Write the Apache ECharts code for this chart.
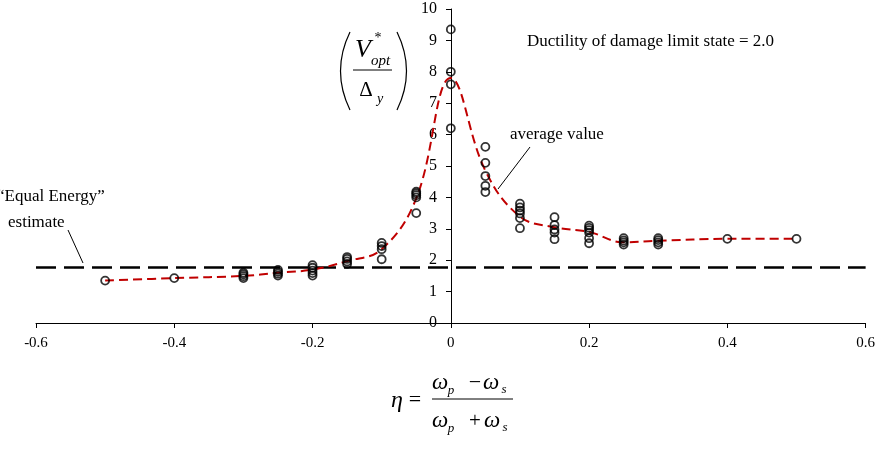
<!DOCTYPE html>
<html>
<head>
<meta charset="utf-8">
<script src="https://cdn.jsdelivr.net/npm/echarts@6/dist/echarts.min.js"></script>
<style>
  html, body { margin: 0; padding: 0; background: #fff; }
  #chart { width: 878px; height: 450px; }
</style>
</head>
<body>
<div id="chart"></div>
<script>
// x ticks and y ticks
const xTicks = [-0.6, -0.4, -0.2, 0, 0.2, 0.4, 0.6]
const yTicks = [0, 1, 2, 3, 4, 5, 6, 7, 8, 9, 10]

// individual results (eta, V*opt/Δy)
const ptEta = [
  -0.5,
  -0.4,
  -0.3, -0.3, -0.3, -0.3,
  -0.25, -0.25, -0.25, -0.25,
  -0.2, -0.2, -0.2, -0.2, -0.2,
  -0.15, -0.15, -0.15, -0.15,
  -0.1, -0.1, -0.1, -0.1,
  -0.05, -0.05, -0.05, -0.05, -0.05,
  0, 0, 0, 0,
  0.05, 0.05, 0.05, 0.05, 0.05,
  0.1, 0.1, 0.1, 0.1, 0.1, 0.1,
  0.15, 0.15, 0.15, 0.15, 0.15,
  0.2, 0.2, 0.2, 0.2, 0.2, 0.2,
  0.25, 0.25, 0.25, 0.25,
  0.3, 0.3, 0.3, 0.3,
  0.4,
  0.5
]
const ptVal = [
  1.35,
  1.43,
  1.43, 1.49, 1.55, 1.6,
  1.51, 1.57, 1.63, 1.69,
  1.51, 1.59, 1.67, 1.76, 1.84,
  1.88, 1.96, 2.04, 2.1,
  2.03, 2.35, 2.45, 2.55,
  3.5, 4.0, 4.07, 4.13, 4.18,
  6.2, 7.6, 8.0, 9.35,
  4.17, 4.37, 4.68, 5.1, 5.61,
  3.02, 3.34, 3.49, 3.58, 3.68, 3.8,
  2.67, 2.88, 2.98, 3.12, 3.37,
  2.54, 2.7, 2.88, 2.96, 3.03, 3.1,
  2.5, 2.57, 2.63, 2.7,
  2.5, 2.57, 2.64, 2.7,
  2.68,
  2.68
]

// average curve
const avgEta = [-0.5, -0.4, -0.3, -0.25, -0.2, -0.15, -0.1, -0.05, 0, 0.05, 0.1, 0.15, 0.2, 0.25, 0.3, 0.4, 0.5]
const avgVal = [1.35, 1.43, 1.5, 1.6, 1.7, 1.97, 2.35, 3.97, 7.8, 4.85, 3.39, 3.05, 2.9, 2.57, 2.62, 2.68, 2.68]

// "Equal Energy" estimate
const eqEta = [-0.6, 0.6]
const eqVal = [1.77, 1.77]

const serif = '"Liberation Serif", "Times New Roman", serif'

const W = 878
const gridLeft = 36
const gridRight = 12

const chart = echarts.init(document.getElementById('chart'))

const txt = (x, y, text, size, opts = {}) => ({
  type: 'text',
  x: x,
  y: y,
  style: {
    text: text,
    font: (opts.italic ? 'italic ' : '') + size + 'px ' + serif,
    fill: '#000',
    align: opts.align || 'left',
    verticalAlign: 'middle'
  }
})
const seg = (x1, y1, x2, y2, w) => ({
  type: 'line',
  shape: { x1, y1, x2, y2 },
  style: { stroke: '#000', lineWidth: w || 1 }
})

// y axis sits at eta = 0, i.e. the middle of the plot
const yAxisShift = -(W - gridLeft - gridRight) / 2

const option = {
  animation: false,
  grid: { left: gridLeft, right: gridRight, top: 9, bottom: 127, containLabel: false },
  xAxis: {
    type: 'value',
    min: xTicks[0],
    max: xTicks[xTicks.length - 1],
    interval: 0.2,
    splitLine: { show: false },
    axisLine: { onZero: true, lineStyle: { color: '#000', width: 1 } },
    axisTick: { show: true, length: 5, lineStyle: { color: '#000' } },
    axisLabel: {
      color: '#000', fontFamily: serif, fontSize: 15, margin: 13,
      formatter: v => String(Math.round(v * 10) / 10)
    }
  },
  yAxis: {
    type: 'value',
    position: 'left',
    offset: yAxisShift,
    min: yTicks[0],
    max: yTicks[yTicks.length - 1],
    interval: 1,
    splitLine: { show: false },
    axisLine: { onZero: false, lineStyle: { color: '#000', width: 1 } },
    axisTick: { show: true, length: 5, lineStyle: { color: '#000' } },
    axisLabel: { color: '#000', fontFamily: serif, fontSize: 16, margin: 14 }
  },
  series: [
    {
      name: 'Equal Energy',
      type: 'line',
      data: eqEta.map((x, i) => [x, eqVal[i]]),
      symbol: 'none',
      lineStyle: { color: '#000', width: 2.5, type: [20, 8] },
      z: 2
    },
    {
      name: 'average value',
      type: 'line',
      data: avgEta.map((x, i) => [x, avgVal[i]]),
      smooth: 0.4,
      symbol: 'none',
      lineStyle: { color: '#C00000', width: 2, type: [9, 5] },
      z: 3
    },
    {
      name: 'results',
      type: 'scatter',
      data: ptEta.map((x, i) => [x, ptVal[i]]),
      symbol: 'circle',
      symbolSize: 8,
      itemStyle: { color: 'rgba(0,0,0,0)', borderColor: '#000', borderWidth: 1.8 },
      z: 4
    }
  ],
  graphic: [
    txt(527, 42, 'Ductility of damage limit state = 2.0', 17),
    txt(510, 135, 'average value', 17),
    seg(530, 147, 498, 189),
    txt(-3, 197, '\u201CEqual Energy\u201D', 17),
    txt(8, 223, 'estimate', 17),
    seg(68, 230, 83, 263),
    // y label: (V*opt / Δy)
    { type: 'bezierCurve', shape: { x1: 350, y1: 32, x2: 350, y2: 110, cpx1: 331, cpy1: 71 }, style: { stroke: '#000', lineWidth: 1.2, fill: null } },
    { type: 'bezierCurve', shape: { x1: 397, y1: 32, x2: 397, y2: 110, cpx1: 416, cpy1: 71 }, style: { stroke: '#000', lineWidth: 1.2, fill: null } },
    txt(363, 50, 'V', 26, { italic: true, align: 'center' }),
    txt(378, 38, '*', 14, { align: 'center' }),
    txt(371, 61, 'opt', 15, { italic: true }),
    seg(353, 70, 392, 70),
    txt(366, 90, '\u0394', 21, { align: 'center' }),
    txt(380, 99, 'y', 14, { italic: true, align: 'center' }),
    // x label: η = (ωp − ωs)/(ωp + ωs)
    txt(397, 401, '\u03B7', 24, { italic: true, align: 'center' }),
    txt(415, 400, '=', 22, { align: 'center' }),
    txt(440, 383, '\u03C9', 23, { italic: true, align: 'center' }),
    txt(451, 391, 'p', 13, { italic: true, align: 'center' }),
    txt(475, 383, '\u2212', 22, { align: 'center' }),
    txt(491, 383, '\u03C9', 23, { italic: true, align: 'center' }),
    txt(504, 390, 's', 13, { italic: true, align: 'center' }),
    seg(432, 399, 513, 399),
    txt(440, 421, '\u03C9', 23, { italic: true, align: 'center' }),
    txt(451, 429, 'p', 13, { italic: true, align: 'center' }),
    txt(475, 421, '+', 21, { align: 'center' }),
    txt(492, 421, '\u03C9', 23, { italic: true, align: 'center' }),
    txt(505, 428, 's', 13, { italic: true, align: 'center' })
  ]
}

chart.setOption(option)
window.addEventListener('resize', () => chart.resize())
</script>
</body>
</html>
